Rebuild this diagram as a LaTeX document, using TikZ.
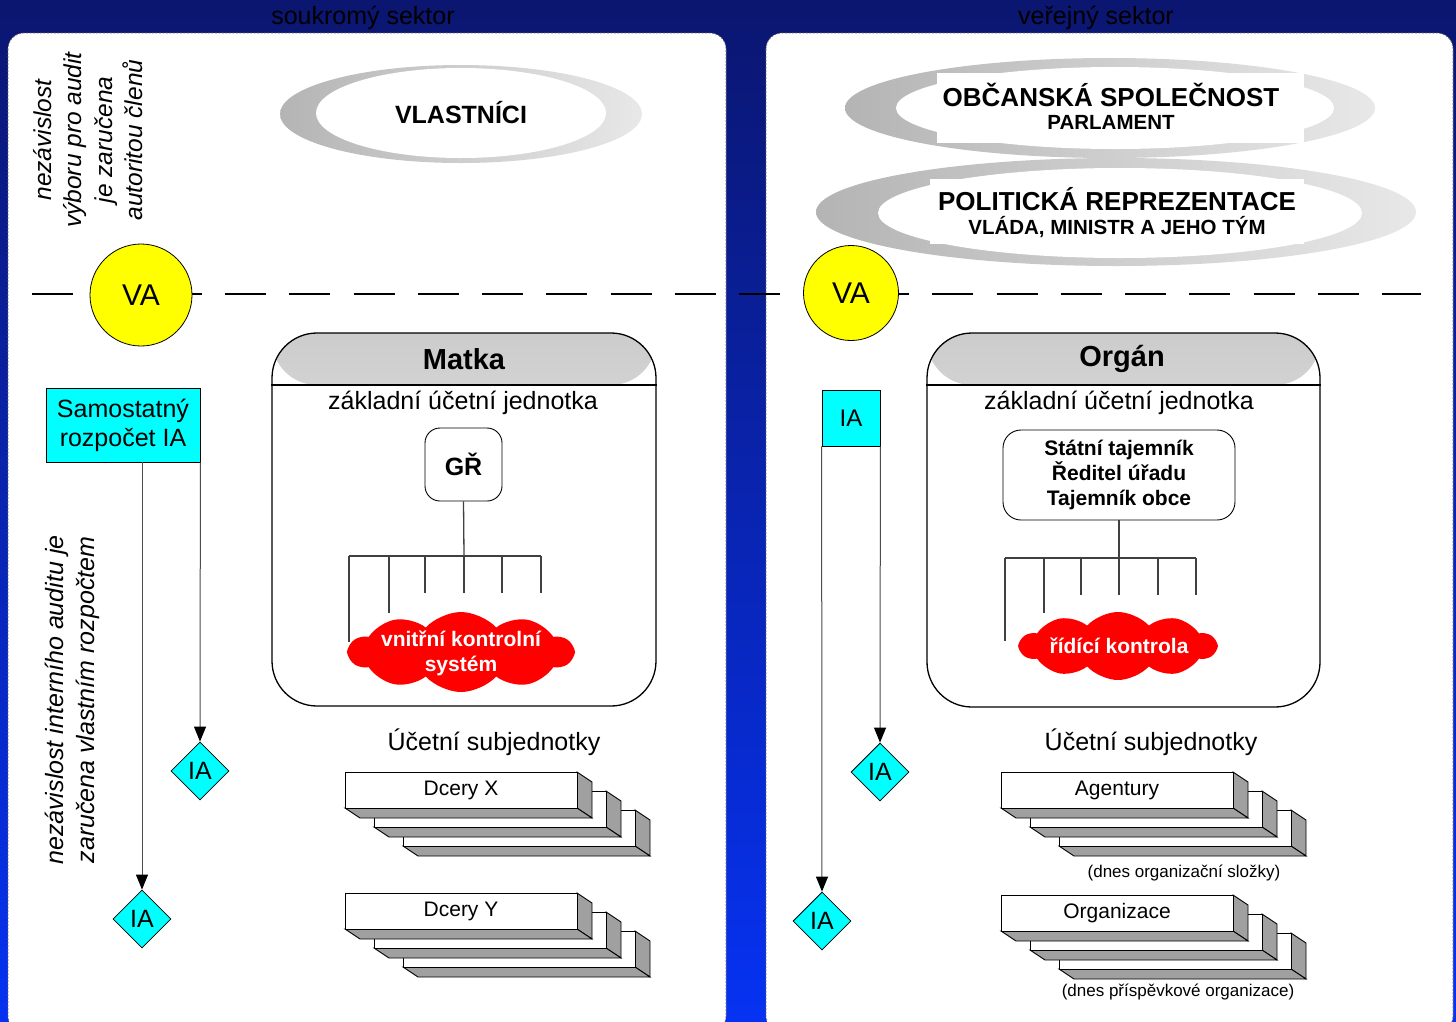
\documentclass[tikz,border=0pt]{standalone}
\usepackage{fontspec}
\setmainfont{Liberation Sans}
\usetikzlibrary{shapes.geometric,shapes.symbols,arrows.meta,calc}
\definecolor{bgtop}{HTML}{0B1670}
\definecolor{bgbot}{HTML}{0632F2}
\definecolor{ringL}{HTML}{B4B4B4}
\definecolor{ringR}{HTML}{E8E8E8}
\definecolor{sidegray}{HTML}{A0A0A0}
\definecolor{iacyan}{HTML}{00FFFF}
\definecolor{vayellow}{HTML}{FFFF00}
\definecolor{cloudred}{HTML}{FF0000}
\newcommand\fsz[2]{\fontsize{#1}{#2}\selectfont}
\newcommand\stackthree[5]{%
  \foreach \i in {2,1,0}{%
    \pgfmathsetmacro\sx{#1+29*\i}%
    \pgfmathsetmacro\sy{#2+19*\i}%
    \filldraw[fill=sidegray, draw=black, line width=0.9pt] ({\sx+#3},{\sy}) -- ++(15,10) -- ++(0,36) -- ++(-15,-10) -- cycle;
    \filldraw[fill=sidegray, draw=black, line width=0.9pt] ({\sx},{\sy+36}) -- ++(15,10) -- ++(#3,0) -- ++(-15,-10) -- cycle;
    \filldraw[fill=white, draw=black, line width=0.9pt] ({\sx},{\sy}) rectangle ++(#3,36);
  }
  \node[font={\fsz{21}{25}}] (#4) at ({#1+#3/2},{#2+18}) {#5};
}
\tikzset{
  x=1pt, y=-1pt,
  panel/.style={fill=white, draw=black!60, line width=0.7pt, dash pattern=on 2pt off 1.5pt, rounded corners=16pt},
  tree/.style={draw=black!75, line width=1.3pt},
  arr/.style={draw=black!70, line width=1pt, -{Triangle[length=15pt,width=12pt,color=black]}},
  iad/.style={diamond, draw=black, line width=0.8pt, fill=iacyan, minimum width=58pt, minimum height=58pt, inner sep=0pt, font={\fsz{25}{30}}},
  vacirc/.style={circle, draw=black, line width=0.8pt, fill=vayellow, inner sep=0pt, font={\fsz{30}{36}}},
  bigbox/.style={draw=black, line width=1.3pt, rounded corners=45pt, inner sep=0pt,
     path picture={\shade[top color=black!20, bottom color=black!3] (path picture bounding box.north west) rectangle ([yshift=-52pt]path picture bounding box.north east);}},
  redcloud/.style={cloud, cloud puffs=10, cloud puff arc=95, cloud ignores aspect, fill=cloudred, inner sep=0pt},
  cloudtxt/.style={text=white, font={\bfseries\fsz{21}{25}}, align=center},
  ringbox/.style={fill=white, inner sep=0pt},
  bigtxt/.style={font={\bfseries\fsz{26}{30}}},
  smalltxt/.style={font={\bfseries\fsz{20.5}{24}}}
}
\begin{document}
\begin{tikzpicture}
\useasboundingbox (0,0) rectangle (1456,1021);
\shade[top color=bgtop, bottom color=bgbot] (0,0) rectangle (1456,1021);
\clip (0,0) rectangle (1456,1021);

% panels
\draw[panel] (8,33) rectangle (726,1032);
\draw[panel] (766,33) rectangle (1453,1032);

% titles
\node[font={\fsz{25}{30}}, text=black] (t1) at (363,18) {soukromý sektor};
\node[font={\fsz{25}{30}}, text=black] (t2) at (1096,18) {veřejný sektor};

% rings
\shade[left color=ringL, right color=ringR] (461,114) ellipse [x radius=181, y radius=49];
\fill[white] (461,113) ellipse [x radius=145, y radius=45];
\node[font={\bfseries\fsz{25}{30}}] (own) at (461,113) {VLASTNÍCI};

\shade[left color=ringL, right color=ringR] (1110,108) ellipse [x radius=265, y radius=50];
\fill[white] (1115,108) ellipse [x radius=219, y radius=41];
\node[ringbox, minimum width=367pt, minimum height=70pt] (obc) at (1120,107.5) {};
\node[bigtxt] (obc1) at (1111,95) {OBČANSKÁ SPOLEČNOST};
\node[smalltxt] (obc2) at (1111,122) {PARLAMENT};

\shade[left color=ringL, right color=ringR] (1116,212) ellipse [x radius=300, y radius=54];
\fill[white] (1120,213) ellipse [x radius=242, y radius=45];
\node[ringbox, minimum width=374pt, minimum height=65pt] (pol) at (1117,211) {};
\node[bigtxt] (pol1) at (1117,199) {POLITICKÁ REPREZENTACE};
\node[smalltxt] (pol2) at (1117,227) {VLÁDA, MINISTR A JEHO TÝM};

% vertical italic texts
\node[rotate=90, align=center, font={\itshape\fsz{24.5}{30.5}}] (vt1) at (88,140)
  {nezávislost\\výboru pro audit\\je zaručena\\autoritou členů};
\node[rotate=90, align=center, font={\itshape\fsz{25}{31}}] (vt2) at (72,700)
  {nezávislost interního auditu je\\zaručena vlastním rozpočtem};

% dashed line
\draw[black, line width=2pt, dash pattern=on 41pt off 23.3pt] (32,294) -- (1421,294);

% VA circles
\node[vacirc, minimum size=102pt] (va1) at (141,295) {VA};
\node[vacirc, minimum size=95pt] (va2) at (851,293) {VA};

% Matka
\node[bigbox, minimum width=384pt, minimum height=373pt] (matka) at (464,519.5) {};
\draw[line width=1.3pt] (matka.west |- 0,385) -- (matka.east |- 0,385);
\node[font={\bfseries\fsz{29}{34}}] (matkat) at (464,359) {Matka};
\node[font={\fsz{25}{30}}] (zuj1) at (463,403) {základní účetní jednotka};
\node[draw=black, line width=0.9pt, rounded corners=15pt, minimum width=77pt, minimum height=73pt, font={\bfseries\fsz{25}{30}}] (gr) at (463.5,464.5) {GŘ};
\draw[tree] (gr.south) -- (464,556);
\draw[tree] (349,556) -- (541,556);
\draw[tree] (349,556) -- (349,642);
\draw[tree] (389,556) -- (389,613);
\draw[tree] (425,556) -- (425,593);
\draw[tree] (464,556) -- (464,593);
\draw[tree] (502,556) -- (502,593);
\draw[tree] (541,556) -- (541,593);
\node[redcloud, minimum width=224pt, minimum height=80pt] (vks) at (461,652) {};
\node[cloudtxt] (vkst) at (461,653) {vnitřní kontrolní\\systém};

% Organ
\node[bigbox, minimum width=393pt, minimum height=374pt] (organ) at (1123.5,520) {};
\draw[line width=1.3pt] (organ.west |- 0,385) -- (organ.east |- 0,385);
\node[font={\bfseries\fsz{29}{34}}] (organt) at (1122,359) {Orgán};
\node[font={\fsz{25}{30}}] (zuj2) at (1119,403) {základní účetní jednotka};
\node[draw=black, line width=0.9pt, rounded corners=18pt, minimum width=232pt, minimum height=90pt, align=center, font={\bfseries\fsz{21}{25}}] (st) at (1119,475) {Státní tajemník\\Ředitel úřadu\\Tajemník obce};
\draw[tree] (st.south) -- (1119,558);
\draw[tree] (1005,558) -- (1196,558);
\draw[tree] (1005,558) -- (1005,641);
\draw[tree] (1044,558) -- (1044,613);
\draw[tree] (1081,558) -- (1081,595);
\draw[tree] (1119,558) -- (1119,595);
\draw[tree] (1158,558) -- (1158,595);
\draw[tree] (1196,558) -- (1196,595);
\node[redcloud, minimum width=196pt, minimum height=68pt] (rk) at (1118,646) {};
\node[cloudtxt] (rkt) at (1119,646) {řídící kontrola};

% subunits
\node[font={\fsz{25}{30}}] (us1) at (494,742) {Účetní subjednotky};
\node[font={\fsz{25}{30}}] (us2) at (1151,742) {Účetní subjednotky};
\stackthree{345}{772}{232}{dx}{Dcery X}
\stackthree{345}{893}{232}{dy}{Dcery Y}
\stackthree{1001}{772}{232}{ag}{Agentury}
\stackthree{1001}{895}{232}{org}{Organizace}
\node[font={\fsz{17}{20}}] (n1) at (1184,873) {(dnes organizační složky)};
\node[font={\fsz{17}{20}}] (n2) at (1178,992) {(dnes příspěvkové organizace)};

% left IA
\node[draw=black, line width=0.8pt, fill=iacyan, minimum width=154pt, minimum height=74pt, inner sep=0pt, align=center, font={\fsz{25}{29}}] (samo) at (123,425) {Samostatný\\rozpočet IA};
\node[iad] (ia1) at (200,771) {IA};
\node[iad] (ia2) at (142,919) {IA};
\draw[arr] (samo.south east) -- (ia1.north);
\draw[arr] (ia2.north |- samo.south) -- (ia2.north);

% right IA
\node[draw=black, line width=0.8pt, fill=iacyan, minimum width=58pt, minimum height=56pt, inner sep=0pt, font={\fsz{24}{29}}] (iab) at (851,418) {IA};
\node[iad] (ia3) at (880,772) {IA};
\node[iad] (ia4) at (822,921) {IA};
\draw[arr] (iab.south east) -- (ia3.north);
\draw[arr] (iab.south west) -- (ia4.north);
\end{tikzpicture}
\end{document}
